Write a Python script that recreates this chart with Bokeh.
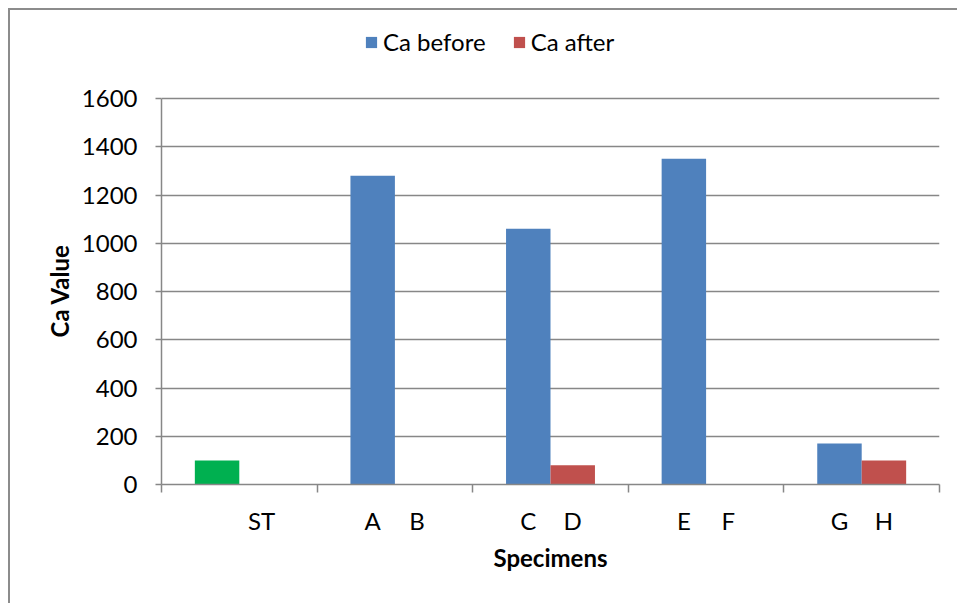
from bokeh.plotting import figure
from bokeh.models import (Range1d, FixedTicker, Legend, LegendItem, ColumnDataSource, Title)
from bokeh.embed import file_html
from bokeh.resources import INLINE

# ---- data ----
groups = ["ST", "A/B", "C/D", "E/F", "G/H"]
before_labels = ["", "A", "C", "E", "G"]
after_labels = ["ST", "B", "D", "F", "H"]
ca_before = [100, 1280, 1060, 1350, 170]
ca_after = [0, 0, 80, 0, 100]
before_colors = ["#00B050", "#4F81BD", "#4F81BD", "#4F81BD", "#4F81BD"]
y_ticks = [0, 200, 400, 600, 800, 1000, 1200, 1400, 1600]
y_max = 1600

FONT = "Lato"
FS = "24px"
GRID = "#878787"

# category i spans [UNIT*i, UNIT*(i+1)]; bars of width 4, gap 1.5 bar widths
UNIT = 14
BW = 4
n = len(groups)
x_before = [UNIT * i + 5 for i in range(n)]
x_after = [UNIT * i + 9 for i in range(n)]

W, H = 949, 595
TOP = 10            # frame reaches up into the legend area
PLOT_H = 386        # pixel height of the 0..1600 value axis
FRAME_H = H - TOP - 121
y_end = y_max * FRAME_H / PLOT_H

p = figure(width=W, height=H, output_backend="svg", toolbar_location=None,
           x_range=Range1d(0, UNIT * n), y_range=Range1d(0, y_end),
           min_border_left=151, min_border_right=20,
           min_border_top=TOP, min_border_bottom=121)
p.styles = {"border-top": "2px solid #8c8c8c", "border-left": "2px solid #8c8c8c",
            "margin-left": "8px", "margin-top": "8px"}
p.outline_line_color = None
p.background_fill_color = "white"

src_b = ColumnDataSource(dict(x=x_before, top=ca_before, color=before_colors))
src_a = ColumnDataSource(dict(x=x_after, top=ca_after))
rb = p.vbar(x="x", top="top", width=BW, source=src_b, fill_color="color", line_color=None)
ra = p.vbar(x="x", top="top", width=BW, source=src_a, fill_color="#C0504D", line_color=None)

# x axis: labels at bar centres, tick marks at category boundaries
xa = p.xaxis[0]
label_pos = []
overrides = {}
for i in range(n):
    label_pos += [x_before[i], x_after[i]]
    overrides[x_before[i]] = before_labels[i]
    overrides[x_after[i]] = after_labels[i]
xa.ticker = FixedTicker(ticks=label_pos, minor_ticks=[UNIT * i for i in range(n + 1)])
xa.major_label_overrides = overrides
xa.major_tick_out = 0
xa.major_tick_in = 0
xa.minor_tick_out = 8
xa.minor_tick_in = 0
xa.minor_tick_line_color = GRID
xa.minor_tick_line_width = 1.5
xa.axis_line_color = GRID
xa.axis_line_width = 1.5
xa.major_label_standoff = 13
xa.major_label_text_font = FONT
xa.major_label_text_font_size = FS
xa.major_label_text_color = "black"
xa.axis_label = "Specimens"
xa.axis_label_text_font = FONT
xa.axis_label_text_font_style = "bold"
xa.axis_label_text_font_size = FS
xa.axis_label_text_color = "black"
xa.axis_label_standoff = 5

ya = p.yaxis[0]
ya.ticker = FixedTicker(ticks=y_ticks)
ya.bounds = (0, y_max)
ya.major_tick_out = 6
ya.major_tick_in = 0
ya.minor_tick_out = 0
ya.minor_tick_in = 0
ya.major_tick_line_color = GRID
ya.major_tick_line_width = 1.5
ya.axis_line_color = GRID
ya.axis_line_width = 1.5
ya.major_label_standoff = 18
ya.major_label_text_font = FONT
ya.major_label_text_font_size = FS
ya.major_label_text_color = "black"

# y-axis title, centred on the 0..1600 span rather than on the taller frame
p.add_layout(Title(text="Ca Value", align="left", offset=147, standoff=10,
                   text_font=FONT, text_font_style="bold", text_font_size=FS,
                   text_color="black"), "left")

p.xgrid.grid_line_color = None
p.ygrid.ticker = FixedTicker(ticks=y_ticks)
p.ygrid.grid_line_color = GRID
p.ygrid.grid_line_width = 1.5

legend = Legend(items=[LegendItem(label="Ca before", renderers=[rb], index=1),
                       LegendItem(label="Ca after", renderers=[ra], index=4)],
                orientation="horizontal", location=(203, 428),
                padding=0, margin=0, spacing=26, label_standoff=5,
                glyph_width=14, glyph_height=14,
                label_text_font=FONT, label_text_font_size=FS,
                label_text_color="black",
                border_line_color=None, background_fill_alpha=0)
p.add_layout(legend, "center")

open("out.html", "w").write(file_html(p, INLINE))
